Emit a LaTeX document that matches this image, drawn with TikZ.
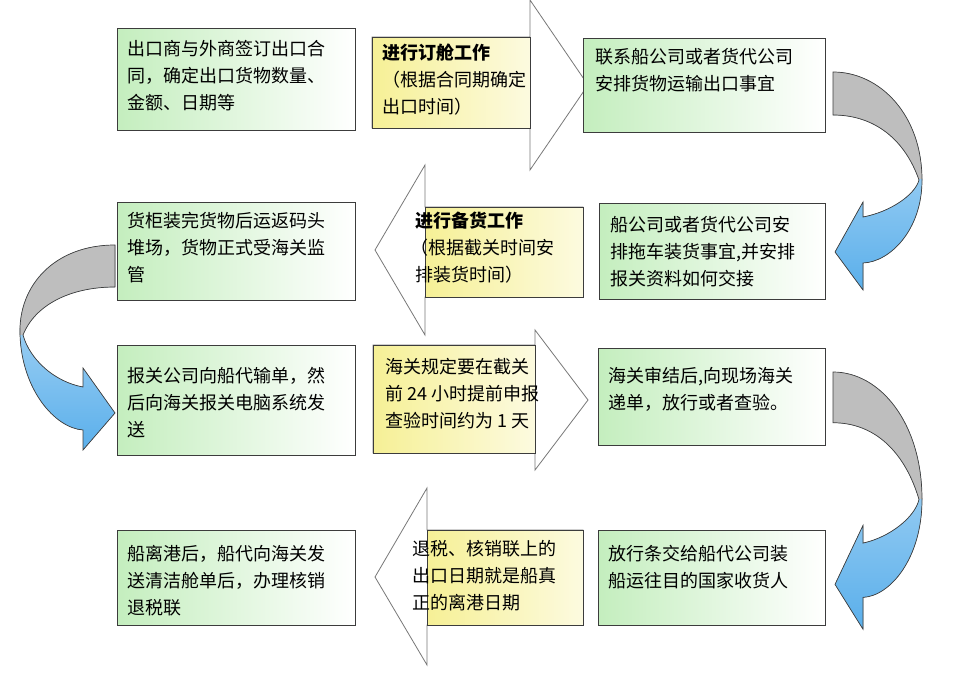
\documentclass[tikz,border=0pt]{standalone}
\usepackage{fontspec}
\newfontfamily\cjk{Noto Sans CJK SC}
\begin{document}
\begin{tikzpicture}[x=1pt,y=-1pt]
\definecolor{gbox}{RGB}{196,238,190}
\definecolor{ybox}{RGB}{246,240,150}
\definecolor{edge}{RGB}{60,60,60}
\definecolor{aedge}{RGB}{120,120,120}
\definecolor{cgray}{RGB}{190,190,190}
\definecolor{cblue}{RGB}{90,175,235}
\tikzset{
 gbx/.style={draw=edge,line width=0.8pt,left color=gbox,right color=white},
 ybx/.style={draw=edge,line width=0.8pt,left color=ybox,right color=ybox!30},
 blk/.style={draw=aedge,line width=0.8pt,fill=white},
 txt/.style={anchor=north west,align=left,inner sep=0pt,font=\cjk\fontsize{18}{27}\selectfont,text=black},
 curv/.style={draw=black!75,line width=0.7pt}
}
\useasboundingbox (0,0) rectangle (971,684);
\fill[white] (0,0) rectangle (971,684);
% block arrows
\draw[blk] (372,37) -- (530,37) -- (530,0) -- (588,85) -- (530,170) -- (530,128) -- (372,128) -- cycle;
\draw[blk] (583,207) -- (425,207) -- (425,165) -- (375,250) -- (425,335) -- (425,297) -- (583,297) -- cycle;
\draw[blk] (373,345) -- (535,345) -- (535,330) -- (588,400) -- (535,470) -- (535,453) -- (373,453) -- cycle;
\draw[blk] (583,530) -- (427,530) -- (427,488) -- (375,577) -- (427,665) -- (427,625) -- (583,625) -- cycle;
% yellow boxes
\node[ybx,minimum width=158pt,minimum height=91pt,anchor=north west,inner sep=0pt] (y1) at (372,37) {};
\node[ybx,minimum width=158pt,minimum height=90pt,anchor=north west,inner sep=0pt] (y2) at (425,207) {};
\node[ybx,minimum width=162pt,minimum height=108pt,anchor=north west,inner sep=0pt] (y3) at (373,345) {};
\node[ybx,minimum width=156pt,minimum height=95pt,anchor=north west,inner sep=0pt] (y4) at (427,530) {};
\node[txt] (t y1) at (382,44) {\textbf{进行订舱工作}\\（根据合同期确定\\出口时间）};
\node[txt] (t y2) at (410,212) {\hspace*{5pt}\textbf{进行备货工作}\\（根据截关时间安\\\hspace*{5pt}排装货时间）};
\node[txt] (t y3) at (385,358) {海关规定要在截关\\前 24 小时提前申报\\查验时间约为 1 天};
\node[txt] (t y4) at (412,540) {退税、核销联上的\\出口日期就是船真\\正的离港日期};
% green boxes
\foreach \n/\x/\y/\w/\h in {l1/117/28/238/102, l2/117/202/238/98, l3/117/345/238/110, l4/117/530/238/95,
  r1/583/38/242/94, r2/599/203/226/96, r3/598/348/227/97, r4/598/530/227/95}
  \node[gbx,minimum width=\w pt,minimum height=\h pt,anchor=north west,inner sep=0pt] (\n) at (\x,\y) {};
\node[txt] (t l1) at (127,40) {出口商与外商签订出口合\\同，确定出口货物数量、\\金额、日期等};
\node[txt] (t r1) at (595,48) {联系船公司或者货代公司\\安排货物运输出口事宜};
\node[txt] (t l2) at (127,212) {货柜装完货物后运返码头\\堆场，货物正式受海关监\\管};
\node[txt] (t r2) at (610,216) {船公司或者货代公司安\\排拖车装货事宜,并安排\\报关资料如何交接};
\node[txt] (t l3) at (127,367) {报关公司向船代输单，然\\后向海关报关电脑系统发\\送};
\node[txt] (t r3) at (608,367) {海关审结后,向现场海关\\递单，放行或者查验。};
\node[txt] (t l4) at (127,545) {船离港后，船代向海关发\\送清洁舱单后，办理核销\\退税联};
\node[txt] (t r4) at (608,545) {放行条交给船代公司装\\船运往目的国家收货人};
% curved arrows right
\def\rshape{(833,72) .. controls (880,72) and (922,115) .. (922,180) .. controls (922,230) and (890,262) .. (863,263) -- (863,290) -- (835,252) -- (863,202) -- (863,217) .. controls (890,212) and (915,195) .. (919,180) .. controls (905,140) and (875,115) .. (833,115) -- cycle}
\foreach \sy/\sc in {72/1, 372/1.18}{
\begin{scope}[shift={(0,\sy)},yscale=\sc,shift={(0,-72)}]
 \fill[top color=cblue!35,bottom color=cblue] \rshape;
 \begin{scope}\clip (800,60) rectangle (950,179); \fill[cgray] \rshape; \end{scope}
 \draw[curv] \rshape;
\end{scope}}
% curved arrow left
\def\lshape{(115,245) .. controls (55,245) and (18,285) .. (20,335) .. controls (22,390) and (55,428) .. (83,430) -- (83,450) -- (115,413) -- (83,368) -- (83,387) .. controls (55,382) and (30,360) .. (23,335) .. controls (35,305) and (70,287) .. (115,287) -- cycle}
\fill[top color=cblue!35,bottom color=cblue] \lshape;
\begin{scope}\clip (0,240) rectangle (130,334); \fill[cgray] \lshape; \end{scope}
\draw[curv] \lshape;
\end{tikzpicture}
\end{document}
